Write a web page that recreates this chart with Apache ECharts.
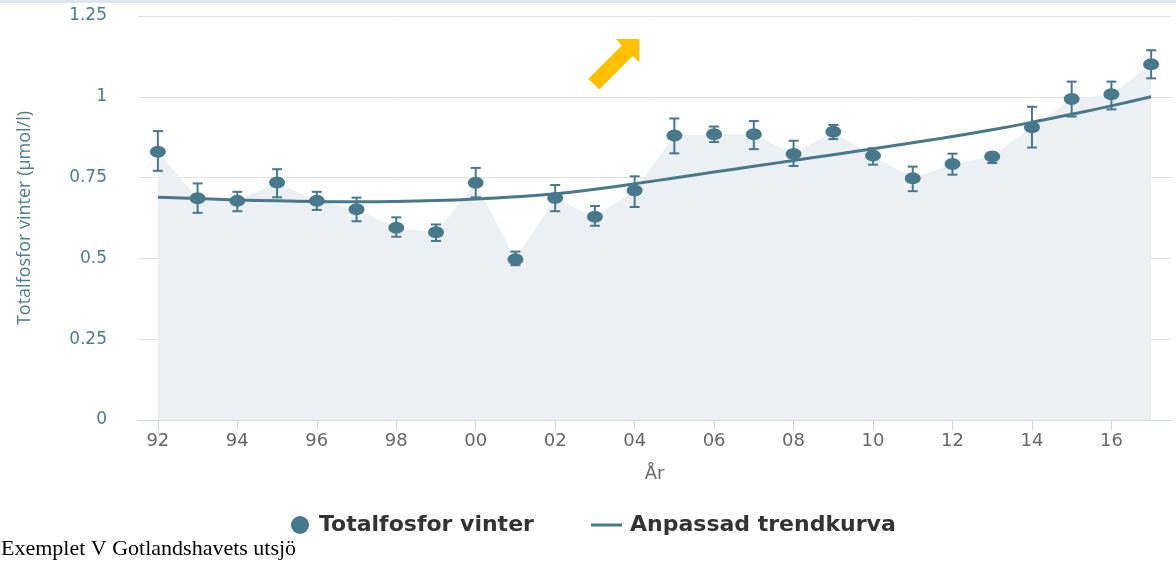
<!DOCTYPE html>
<html>
<head>
<meta charset="utf-8">
<script src="https://cdn.jsdelivr.net/npm/echarts@6/dist/echarts.min.js"></script>
<style>
html,body{margin:0;padding:0;background:#fff;}
#chart{width:1176px;height:568px;}
</style>
</head>
<body>
<div id="chart"></div>
<script>
// ---- data ----
const years = ['92','93','94','95','96','97','98','99','00','01','02','03','04','05','06','07','08','09','10','11','12','13','14','15','16','17'];
const values = [0.830,0.686,0.678,0.735,0.678,0.652,0.595,0.581,0.734,0.497,0.687,0.629,0.710,0.880,0.884,0.884,0.823,0.892,0.818,0.748,0.792,0.815,0.906,0.993,1.008,1.101];
const lows   = [0.771,0.641,0.646,0.689,0.650,0.615,0.567,0.554,0.689,0.479,0.646,0.601,0.659,0.825,0.860,0.838,0.786,0.869,0.790,0.708,0.759,0.795,0.843,0.939,0.961,1.057];
const highs  = [0.894,0.732,0.706,0.776,0.706,0.688,0.627,0.605,0.780,0.521,0.727,0.662,0.754,0.933,0.908,0.925,0.864,0.913,0.841,0.784,0.824,0.827,0.969,1.047,1.047,1.144];
const trend  = [0.689,0.685,0.681,0.678,0.676,0.675,0.676,0.679,0.684,0.691,0.700,0.714,0.731,0.749,0.767,0.785,0.803,0.821,0.839,0.858,0.877,0.898,0.921,0.946,0.972,1.000];
const seriesNames = ['Totalfosfor vinter','Anpassad trendkurva'];
const xAxisName = 'År';
const yAxisName = 'Totalfosfor vinter (µmol/l)';
const caption = 'Exemplet V Gotlandshavets utsjö';

const teal = '#47788b';
const errData = years.map((y,i)=>[i, lows[i], highs[i]]);

const chart = echarts.init(document.getElementById('chart'));
chart.setOption({
  animation:false,
  backgroundColor:'#ffffff',
  grid:{left:138,right:5,top:16,bottom:148,containLabel:false},
  legend:[
    {data:[{name:seriesNames[0],icon:'circle'}],left:286,top:509,itemWidth:24,itemHeight:18,itemGap:0,
     textStyle:{fontFamily:'DejaVu Sans',fontWeight:'bold',fontSize:22,color:'#333',padding:[0,0,0,2]}},
    {data:[{name:seriesNames[1],icon:'rect'}],left:586,top:509,itemWidth:31,itemHeight:3,
     textStyle:{fontFamily:'DejaVu Sans',fontWeight:'bold',fontSize:22,color:'#333',padding:[0,0,0,3]}}
  ],
  xAxis:{
    type:'category',data:years,boundaryGap:true,
    name:xAxisName,nameLocation:'middle',nameGap:45,
    nameTextStyle:{fontFamily:'DejaVu Sans',fontSize:18,color:'#666'},
    axisLine:{lineStyle:{color:'#ccd6eb',width:1}},
    axisTick:{show:true,interval:1,alignWithLabel:true,length:10,lineStyle:{color:'#ccd6eb',width:1}},
    axisLabel:{interval:1,margin:12,fontFamily:'DejaVu Sans',fontSize:18,color:'#666'},
    splitLine:{show:false}
  },
  yAxis:{
    type:'value',min:0,max:1.25,interval:0.25,
    name:yAxisName,nameLocation:'middle',nameGap:104,nameRotate:90,
    nameTextStyle:{fontFamily:'Open Sans',fontSize:18,color:'#4d7d8f'},
    axisLine:{show:false},axisTick:{show:false},
    axisLabel:{margin:31,fontFamily:'DejaVu Sans',fontSize:17,color:'#4d7d8f'},
    splitLine:{lineStyle:{color:'#e3e3e3',width:1}}
  },
  series:[
    {name:'area',type:'line',data:values,symbol:'none',silent:true,z:1,
     lineStyle:{width:0,opacity:0},areaStyle:{color:'#edf0f3',opacity:1},legendHoverLink:false},
    {name:seriesNames[1],type:'line',data:trend,smooth:true,symbol:'none',showSymbol:false,z:3,
     itemStyle:{color:teal},lineStyle:{color:teal,width:3}},
    {name:'err',type:'custom',z:4,data:errData,
     renderItem:function(params,api){
       const x = api.coord([api.value(0),api.value(1)]);
       const t = api.coord([api.value(0),api.value(2)]);
       const hw = 5;
       const st = {stroke:teal,lineWidth:2,fill:null};
       return {type:'group',children:[
         {type:'line',shape:{x1:x[0],y1:x[1],x2:t[0],y2:t[1]},style:st},
         {type:'line',shape:{x1:x[0]-hw,y1:x[1],x2:x[0]+hw,y2:x[1]},style:st},
         {type:'line',shape:{x1:t[0]-hw,y1:t[1],x2:t[0]+hw,y2:t[1]},style:st}
       ]};
     }},
    {name:seriesNames[0],type:'scatter',data:values,symbol:'circle',symbolSize:[16,12],z:5,
     itemStyle:{color:teal,opacity:1}}
  ],
  graphic:[
    {type:'rect',left:0,top:0,shape:{width:1176,height:3},style:{fill:'#dce6f1'},silent:true},
    {type:'polygon',shape:{points:[[588.3,79],[622,45.3],[615.7,39],[639.3,39],[639.3,62.3],[632.7,56],[599.3,89.3]]},
     style:{fill:'#ffc000'},silent:true},
    {type:'text',left:1,top:538,style:{text:caption,fontFamily:'Liberation Serif',fontSize:22,fill:'#000'}}
  ]
});
</script>
</body>
</html>
